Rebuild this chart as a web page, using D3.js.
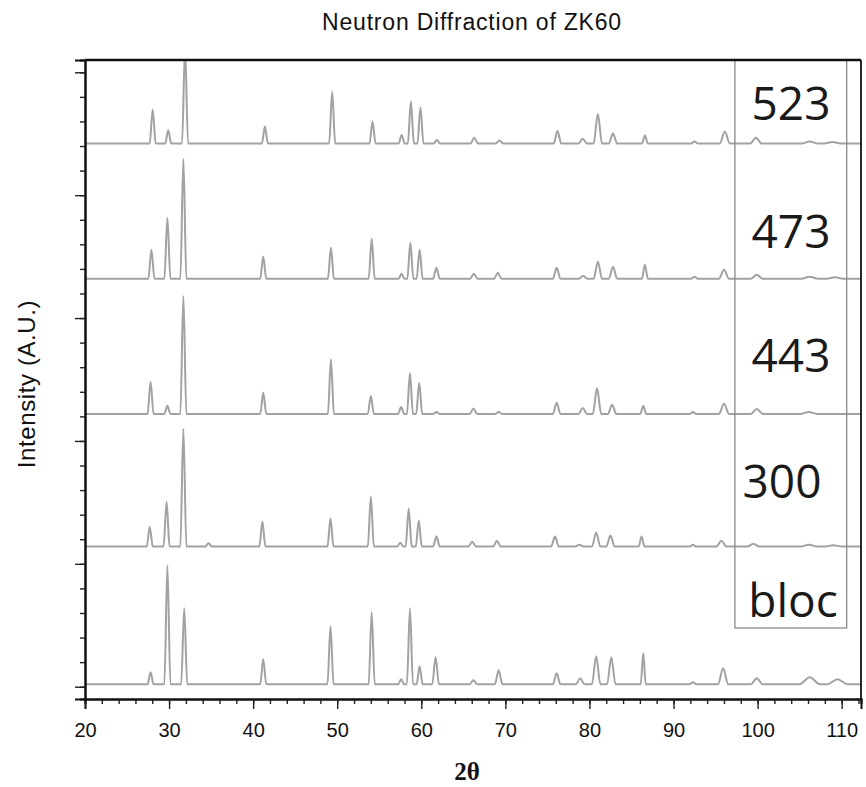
<!DOCTYPE html>
<html>
<head>
<meta charset="utf-8">
<script src="https://cdn.jsdelivr.net/npm/d3@7/dist/d3.min.js"></script>
<style>
  html, body { margin: 0; padding: 0; background: #fff; }
  svg { display: block; }
</style>
</head>
<body>
<svg id="chart" width="866" height="787"></svg>
<script>
// ---------------- data ----------------
const chartTitle = "Neutron Diffraction of ZK60";
const xTitle = "2θ";
const yTitle = "Intensity (A.U.)";
const xDomain = [20, 112.3];
const yDomain = [-50, 2550];
const xMajorTicks = [20, 30, 40, 50, 60, 70, 80, 90, 100, 110];
const xMinorTicks = d3.range(20, 112.01, 2);
const yMajorTicks = [0, 500, 1000, 1500, 2000, 2500];
const yMinorTicks = d3.range(0, 2501, 100);

const seriesLabels = ["523", "473", "443", "300", "bloc"];
const seriesOffsets = [2210, 1660, 1110, 570, 10];

// peaks: [2θ, height (a.u.), half-width at base (deg)]
const peaks523 = [
  [28.05,138,0.36],[29.9,55,0.36],[31.9,390,0.36],[41.4,69,0.36],[49.4,212,0.36],
  [54.2,90,0.36],[57.66,35,0.36],[58.76,171,0.36],[59.9,147,0.36],[61.85,14,0.4],
  [66.3,24,0.45],[69.3,12,0.45],[76.2,51,0.45],[79.2,20,0.5],[81.0,120,0.5],
  [82.8,41,0.5],[86.6,33,0.35],[92.5,8,0.4],[96.1,49,0.6],[99.8,24,0.7],
  [106.2,8,1.0],[108.9,6,1.0]
];
const peaks473 = [
  [27.9,118,0.36],[29.8,248,0.36],[31.7,488,0.36],[41.2,90,0.36],[49.25,126,0.36],
  [54.1,163,0.36],[57.65,20,0.36],[58.7,147,0.36],[59.8,118,0.36],[61.8,45,0.4],
  [66.25,20,0.45],[69.1,24,0.45],[76.1,45,0.45],[79.25,12,0.5],[81.0,69,0.5],
  [82.8,49,0.5],[86.6,57,0.35],[92.5,8,0.4],[96.0,37,0.6],[99.9,16,0.7],
  [106.2,8,1.0],[109.2,6,1.0]
];
const peaks443 = [
  [27.8,130,0.36],[29.8,33,0.36],[31.7,480,0.36],[41.2,87,0.36],[49.25,222,0.36],
  [54.0,73,0.36],[57.6,28,0.36],[58.65,165,0.36],[59.75,126,0.36],[61.8,8,0.4],
  [66.2,22,0.45],[69.2,8,0.45],[76.1,45,0.45],[79.2,24,0.5],[80.9,104,0.5],
  [82.7,37,0.5],[86.4,33,0.35],[92.3,8,0.4],[96.0,41,0.6],[99.9,20,0.7],
  [106.1,8,1.0]
];
const peaks300 = [
  [27.7,81,0.36],[29.7,183,0.36],[31.7,480,0.36],[34.7,14,0.4],[41.1,102,0.36],
  [49.2,114,0.36],[54.0,204,0.36],[57.5,16,0.36],[58.5,155,0.36],[59.7,106,0.36],
  [61.8,41,0.4],[66.05,20,0.45],[69.0,24,0.45],[75.9,41,0.45],[78.8,8,0.5],
  [80.8,57,0.5],[82.5,45,0.5],[86.2,41,0.35],[92.3,8,0.4],[95.7,24,0.6],
  [99.5,12,0.7],[106.1,8,1.0],[109.0,6,1.0]
];
const peaksBloc = [
  [27.8,49,0.36],[29.8,484,0.36],[31.8,309,0.36],[41.2,102,0.36],[49.2,236,0.36],
  [54.1,293,0.36],[57.6,20,0.36],[58.65,309,0.36],[59.8,73,0.36],[61.7,110,0.4],
  [66.2,16,0.45],[69.2,57,0.45],[76.1,45,0.45],[78.9,24,0.5],[80.8,114,0.5],
  [82.6,110,0.5],[86.4,126,0.3],[92.3,8,0.4],[95.9,65,0.6],[99.9,24,0.7],
  [106.2,28,1.2],[109.5,20,1.2]
];
const seriesPeaks = [peaks523, peaks473, peaks443, peaks300, peaksBloc];

// label box (data coordinates)
const boxX = [97.3, 110.6];
const boxYBottom = 239;

// ---------------- drawing ----------------
const svg = d3.select("#chart");
const W = 866, H = 787;
const margin = { left: 85, right: 5, top: 60, bottom: 88 };

const x = d3.scaleLinear().domain(xDomain).range([margin.left, W - margin.right]);
const y = d3.scaleLinear().domain(yDomain).range([H - margin.bottom, margin.top]);

svg.append("defs").append("clipPath").attr("id", "plotclip")
  .append("rect")
  .attr("x", x(xDomain[0])).attr("y", y(yDomain[1]))
  .attr("width", x(xDomain[1]) - x(xDomain[0]))
  .attr("height", y(yDomain[0]) - y(yDomain[1]));

const line = d3.line()
  .x(d => x(d[0])).y(d => y(d[1]))
  .curve(d3.curveMonotoneX);

const traces = svg.append("g").attr("clip-path", "url(#plotclip)");
seriesPeaks.forEach((pk, i) => {
  const off = seriesOffsets[i];
  const pts = [[xDomain[0], off]];
  pk.forEach(([p, h, w]) => {
    pts.push([p - w, off]);
    pts.push([p, off + h]);
    pts.push([p + w, off]);
  });
  pts.push([xDomain[1], off]);
  traces.append("path")
    .attr("d", line(pts))
    .attr("fill", "none")
    .attr("stroke", "#a2a2a2")
    .attr("stroke-width", 2)
    .attr("stroke-linejoin", "round");
});

// label box
svg.append("rect")
  .attr("x", x(boxX[0]))
  .attr("y", y(yDomain[1]))
  .attr("width", x(boxX[1]) - x(boxX[0]))
  .attr("height", y(boxYBottom) - y(yDomain[1]))
  .attr("fill", "none")
  .attr("stroke", "#8a8a8a")
  .attr("stroke-width", 1.3);

// series labels
const labelPos = [[791, 120], [791, 248], [791, 372], [782, 498], [793, 617]];
svg.append("g").selectAll("text").data(seriesLabels).join("text")
  .attr("x", (d, i) => labelPos[i][0])
  .attr("y", (d, i) => labelPos[i][1])
  .attr("text-anchor", "middle")
  .attr("font-family", "'Open Sans', sans-serif")
  .attr("font-size", 46)
  .attr("fill", "#1a1a1a")
  .text(d => d);

// axes
const xAxisMinor = d3.axisBottom(x).tickValues(xMinorTicks).tickSize(5).tickFormat("");
const xAxisMajor = d3.axisBottom(x).tickValues(xMajorTicks).tickSize(10).tickFormat(d3.format("d"));
const yAxisMinor = d3.axisLeft(y).tickValues(yMinorTicks).tickSize(5).tickFormat("");
const yAxisMajor = d3.axisLeft(y).tickValues(yMajorTicks).tickSize(10).tickFormat("");

const gx1 = svg.append("g").attr("transform", `translate(0,${y(yDomain[0])})`).call(xAxisMinor);
const gx2 = svg.append("g").attr("transform", `translate(0,${y(yDomain[0])})`).call(xAxisMajor);
const gy1 = svg.append("g").attr("transform", `translate(${x(xDomain[0])},0)`).call(yAxisMinor);
const gy2 = svg.append("g").attr("transform", `translate(${x(xDomain[0])},0)`).call(yAxisMajor);
[gx1, gx2, gy1, gy2].forEach(g => {
  g.select(".domain").attr("stroke", "#111").attr("stroke-width", 2);
  g.selectAll(".tick line").attr("stroke", "#222").attr("stroke-width", 1.4);
});
gx2.selectAll(".tick text")
  .attr("font-family", "'Liberation Sans', Arial, sans-serif")
  .attr("font-size", 20)
  .attr("fill", "#111")
  .attr("dy", "1.25em");

// top and right frame
svg.append("line")
  .attr("x1", x(xDomain[0])).attr("x2", x(xDomain[1]))
  .attr("y1", y(yDomain[1])).attr("y2", y(yDomain[1]))
  .attr("stroke", "#111").attr("stroke-width", 2.5);
svg.append("line")
  .attr("x1", x(xDomain[1])).attr("x2", x(xDomain[1]))
  .attr("y1", y(yDomain[1])).attr("y2", y(yDomain[0]))
  .attr("stroke", "#111").attr("stroke-width", 1.8);

// titles
svg.append("text")
  .attr("x", 472).attr("y", 30)
  .attr("text-anchor", "middle")
  .attr("font-family", "'Liberation Sans', Arial, sans-serif")
  .attr("font-size", 23)
  .attr("letter-spacing", 0.8)
  .attr("fill", "#111")
  .text(chartTitle);

svg.append("text")
  .attr("x", 467).attr("y", 780)
  .attr("text-anchor", "middle")
  .attr("font-family", "'Liberation Serif', 'Times New Roman', serif")
  .attr("font-size", 25)
  .attr("font-weight", "bold")
  .attr("fill", "#111")
  .text(xTitle);

svg.append("text")
  .attr("transform", "translate(35,384) rotate(-90)")
  .attr("text-anchor", "middle")
  .attr("font-family", "'Liberation Sans', Arial, sans-serif")
  .attr("font-size", 24)
  .attr("letter-spacing", 0.6)
  .attr("fill", "#111")
  .text(yTitle);
</script>
</body>
</html>
